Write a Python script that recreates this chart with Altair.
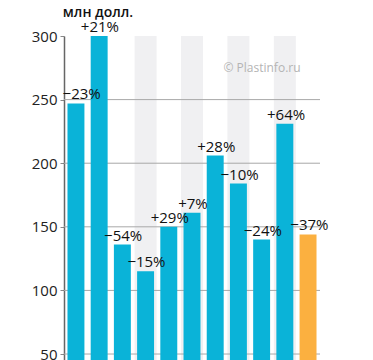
import altair as alt
import pandas as pd

categories = ["c01", "c02", "c03", "c04", "c05", "c06", "c07", "c08", "c09", "c10", "c11"]
values = [247, 300, 136, 115, 150, 161, 206, 184, 140, 231, 144]
changes = ["−23%", "+21%", "−54%", "−15%", "+29%", "+7%", "+28%", "−10%", "−24%", "+64%", "−37%"]
highlight = [False] * 10 + [True]
striped = ["c04", "c06", "c08", "c10"]
grid_values = [50, 100, 150, 200, 250]
axis_values = [50, 100, 150, 200, 250, 300]

df = pd.DataFrame({"cat": categories, "value": values, "change": changes, "hl": highlight})
df["idx"] = range(len(df))
stripes = pd.DataFrame({"cat": striped, "value": [300] * len(striped)})
grid = pd.DataFrame({"value": grid_values})

Y_MIN = 45.3
yscale = alt.Scale(domain=[Y_MIN, 300], nice=False, zero=False)
xscale = alt.Scale(domain=categories, paddingInner=0.27, paddingOuter=0.15)
xscale_stripe = alt.Scale(domain=categories, paddingInner=0.052, paddingOuter=0.041)
FONT = "Open Sans"

yaxis = alt.Axis(
    values=axis_values,
    grid=False,
    ticks=True,
    tickSize=4,
    tickColor="#888888",
    domainColor="#666666",
    domainWidth=1.5,
    labelFont=FONT,
    labelFontSize=15,
    labelColor="#222222",
    labelPadding=3,
    title=None,
)


def Y():
    return alt.Y("value:Q", scale=yscale, axis=yaxis)


stripe_layer = alt.Chart(stripes).mark_bar(color="#f0f0f2", clip=True).encode(
    x=alt.X("cat:N", scale=xscale_stripe, axis=None),
    y=Y(),
    y2=alt.datum(0),
)

grid_layer = alt.Chart(grid).mark_rule(color="#a8a8a8", strokeWidth=1).encode(
    y=Y(),
)

bars = alt.Chart(df).mark_bar(clip=True).encode(
    x=alt.X("cat:N", scale=xscale, axis=None),
    y=Y(),
    y2=alt.datum(0),
    color=alt.Color(
        "hl:N",
        scale=alt.Scale(domain=[False, True], range=["#0ab3d8", "#fbb040"]),
        legend=None,
    ),
)

text_first = alt.Chart(df).transform_filter("datum.idx == 0").mark_text(
    font=FONT, fontSize=15, color="#111111", baseline="alphabetic", dy=-4, dx=6
).encode(
    x=alt.X("cat:N", scale=xscale, axis=None),
    y=Y(),
    text="change:N",
)

text_rest = alt.Chart(df).transform_filter("datum.idx > 0").mark_text(
    font=FONT, fontSize=15, color="#111111", baseline="alphabetic", dy=-4, dx=1
).encode(
    x=alt.X("cat:N", scale=xscale, axis=None),
    y=Y(),
    text="change:N",
)

title_layer = alt.Chart(pd.DataFrame({"t": ["млн долл."]})).mark_text(
    font=FONT, fontSize=14, fontWeight=600, color="#111111", baseline="alphabetic"
).encode(x=alt.value(34), y=alt.value(-19), text="t:N")

watermark = alt.Chart(pd.DataFrame({"t": ["© Plastinfo.ru"]})).mark_text(
    font=FONT, fontSize=12, color="#b4b4b4", baseline="middle"
).encode(x=alt.value(198), y=alt.value(32), text="t:N")

chart = alt.layer(
    stripe_layer, grid_layer, bars, text_first, text_rest, watermark, title_layer
).resolve_scale(x="independent").properties(
    width=256,
    height=324,
    autosize=alt.AutoSizeParams(type="none"),
    padding={"left": 56, "top": 28, "right": 40, "bottom": 0},
).configure_view(stroke=None)

chart.save("out.html", embed_options={"renderer": "svg", "actions": False})
